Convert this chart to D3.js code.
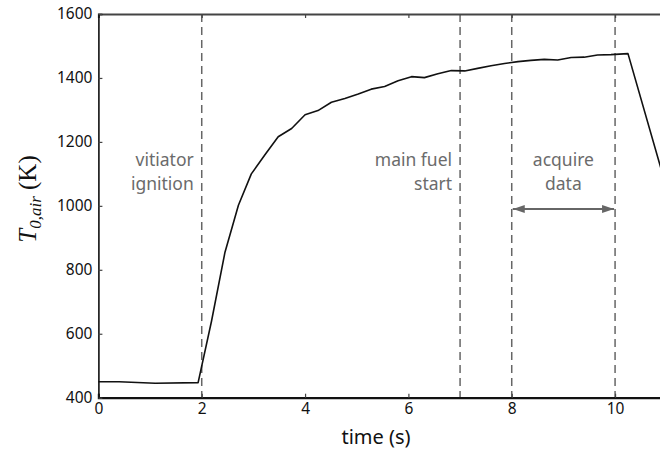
<!DOCTYPE html>
<html>
<head>
<meta charset="utf-8">
<style>
  body { margin: 0; background: #fff; }
  svg { display: block; }
  .tick text { font-family: "Noto Sans", sans-serif; font-size: 15.5px; fill: #111; }
  .note { font-family: "Noto Sans", sans-serif; font-size: 17.5px; fill: #6b6b6b; }
</style>
<script src="https://d3js.org/d3.v7.min.js"></script>
</head>
<body>
<svg width="660" height="455"></svg>
<script>
// time (s) and air temperature (K)
var times = [0, 0.4, 1.1, 1.93, 2.19, 2.45, 2.71, 2.96, 3.22, 3.48, 3.74, 4.0, 4.25, 4.51,
  4.77, 5.03, 5.28, 5.54, 5.8, 6.06, 6.31, 6.57, 6.83, 7.09, 7.34, 7.6, 7.86, 8.12,
  8.37, 8.63, 8.89, 9.15, 9.4, 9.66, 9.92, 10.25, 11.5];
var temps = [450, 450, 445, 447, 640, 855, 1002, 1100, 1159, 1216, 1242, 1285, 1298, 1324,
  1336, 1350, 1365, 1373, 1391, 1404, 1401, 1413, 1423, 1422, 1430, 1438, 1445, 1451,
  1455, 1458, 1456, 1464, 1465, 1472, 1473, 1476, 773];

var xTicks = [0, 2, 4, 6, 8, 10];
var yTicks = [400, 600, 800, 1000, 1200, 1400, 1600];
var events = [2, 7, 8, 10];
var notes = [
  { t: 2, lines: ["vitiator", "ignition"], anchor: "end" },
  { t: 7, lines: ["main fuel", "start"], anchor: "end" },
  { t: 9, lines: ["acquire", "data"], anchor: "middle" }
];
var window_ = [8, 10];

var svg = d3.select("svg");
var x = d3.scaleLinear().domain([0, 12]).range([98.4, 718.4]);
var y = d3.scaleLinear().domain([400, 1600]).range([397.7, 14]);

var defs = svg.append("defs");
defs.append("clipPath").attr("id", "plot")
  .append("rect").attr("x", 98).attr("y", 13).attr("width", 620).attr("height", 386);
defs.append("marker").attr("id", "arr")
  .attr("viewBox", "0 0 12 8").attr("refX", 12).attr("refY", 4)
  .attr("markerWidth", 12).attr("markerHeight", 8).attr("markerUnits", "userSpaceOnUse")
  .attr("orient", "auto-start-reverse")
  .append("path").attr("d", "M0,0 L12,4 L0,8 Z").attr("fill", "#666");

// event lines
svg.append("g").selectAll("line").data(events).enter().append("line")
  .attr("x1", function(d) { return x(d); }).attr("x2", function(d) { return x(d); })
  .attr("y1", y(1600)).attr("y2", y(400))
  .attr("stroke", "#666").attr("stroke-width", 1.5).attr("stroke-dasharray", "8,5");

// annotations
notes.forEach(function(n) {
  var tx = n.anchor === "end" ? x(n.t) - 8 : x(n.t);
  var txt = svg.append("text").attr("class", "note").attr("text-anchor", n.anchor);
  n.lines.forEach(function(l, i) {
    txt.append("tspan").attr("x", tx).attr("y", 166 + i * 24).text(l);
  });
});

svg.append("line")
  .attr("x1", x(window_[0]) + 1).attr("x2", x(window_[1]) - 1)
  .attr("y1", 209).attr("y2", 209)
  .attr("stroke", "#666").attr("stroke-width", 2)
  .attr("marker-start", "url(#arr)").attr("marker-end", "url(#arr)");

// data line
var pts = times.map(function(t, i) { return [t, temps[i]]; });
svg.append("path").datum(pts)
  .attr("clip-path", "url(#plot)")
  .attr("fill", "none").attr("stroke", "#111").attr("stroke-width", 1.6)
  .attr("stroke-linejoin", "round")
  .attr("d", d3.line().x(function(d) { return x(d[0]); }).y(function(d) { return y(d[1]); }));

// axes
var xb = svg.append("g").attr("transform", "translate(0," + y(400) + ")")
  .call(d3.axisBottom(x).tickValues(xTicks).tickSize(-4).tickPadding(5).tickFormat(d3.format("d")));
var xt = svg.append("g").attr("transform", "translate(0," + y(1600) + ")")
  .call(d3.axisTop(x).tickValues(xTicks).tickSize(-4).tickFormat(""));
var yl = svg.append("g").attr("transform", "translate(" + x(0) + ",0)")
  .call(d3.axisLeft(y).tickValues(yTicks).tickSize(-4).tickPadding(6).tickFormat(d3.format("d")));

xb.select(".domain").attr("stroke", "#111").attr("stroke-width", 2.2);
xt.select(".domain").attr("stroke", "#444").attr("stroke-width", 2);
yl.select(".domain").attr("stroke", "#111").attr("stroke-width", 1.6);
svg.selectAll(".tick line").attr("stroke", "#444").attr("stroke-width", 1.2);
xb.selectAll(".tick text").attr("dy", "0.75em");

// axis titles
svg.append("text").attr("x", 376).attr("y", 444)
  .attr("text-anchor", "middle")
  .style("font-family", "'Noto Sans', sans-serif").style("font-size", "20px").style("fill", "#111")
  .text("time (s)");

var yt = svg.append("text")
  .attr("transform", "translate(36,199) rotate(-90)")
  .attr("text-anchor", "middle")
  .style("font-family", "'Liberation Serif', serif").style("font-size", "25px").style("fill", "#111");
yt.append("tspan").style("font-style", "italic").text("T");
yt.append("tspan").style("font-style", "italic").style("font-size", "17px").attr("dy", 5).text("0,air");
yt.append("tspan").attr("dy", -5).text(" (K)");
</script>
</body>
</html>
